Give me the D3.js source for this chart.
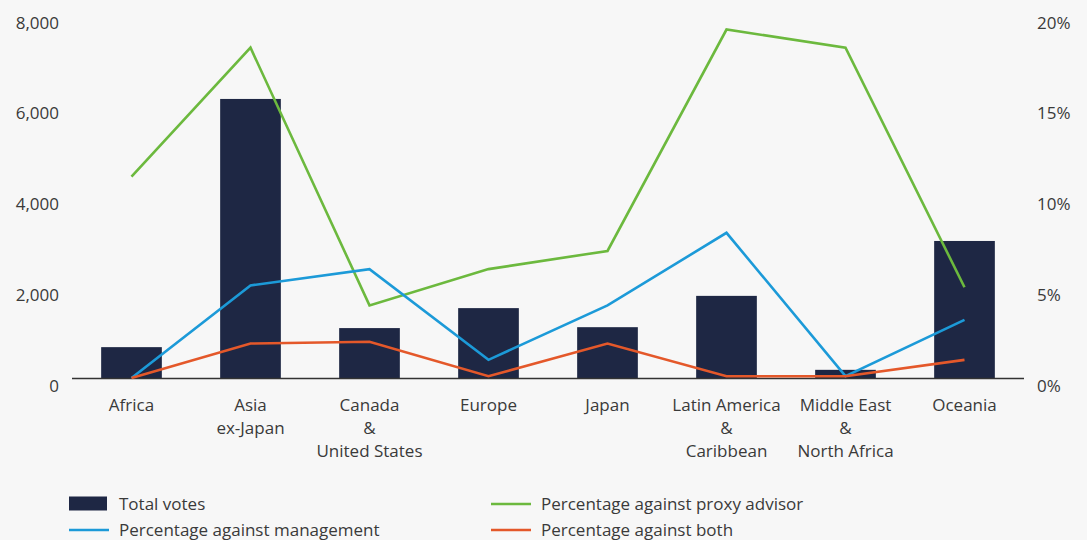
<!DOCTYPE html>
<html>
<head>
<meta charset="utf-8">
<script src="https://cdn.jsdelivr.net/npm/d3@7"></script>
<style>
  html, body { margin: 0; padding: 0; background: #f7f7f7; }
  svg { display: block; }
  text { font-family: "Open Sans", "Noto Sans", sans-serif; fill: #3a3a3a; }
</style>
</head>
<body>
<svg id="chart" width="1087" height="540"></svg>
<script>
// Regions on the x axis (line breaks shown with "\n")
const regions = [
  "Africa", "Asia\nex-Japan", "Canada\n&\nUnited States", "Europe",
  "Japan", "Latin America\n&\nCaribbean", "Middle East\n&\nNorth Africa", "Oceania"
];
// Total votes (left axis)
const totalVotes = [680, 6150, 1100, 1540, 1120, 1810, 180, 3020];
// Percentages (right axis)
const pctAgainstProxy = [11.1, 18.2, 4.0, 6.0, 7.0, 19.2, 18.2, 5.0];
const pctAgainstMgmt  = [0.0, 5.1, 6.0, 1.0, 4.0, 8.0, 0.1, 3.2];
const pctAgainstBoth  = [0.0, 1.9, 2.0, 0.1, 1.9, 0.1, 0.1, 1.0];
// Tick values
const leftTicks = [0, 2000, 4000, 6000, 8000];
const rightTicks = [0, 5, 10, 15, 20];

const colors = {
  bar: "#1e2744",
  proxy: "#6cb93e",
  mgmt: "#1c9ad8",
  both: "#e4582a",
  axis: "#333333"
};

const svg = d3.select("#chart");
const plotLeft = 72, plotRight = 1024, plotTop = 15, plotBottom = 378;

const x = d3.scaleBand().domain(regions).range([plotLeft, plotRight]).paddingInner(0.49).paddingOuter(0.245);
const xc = d => x(d) + x.bandwidth() / 2;
const yL = d3.scaleLinear().domain([0, 8000]).range([plotBottom, plotTop]);
const yR = d3.scaleLinear().domain([0, 20]).range([plotBottom, plotTop]);

// Bars
svg.append("g").selectAll("rect").data(regions).join("rect")
  .attr("x", d => x(d))
  .attr("width", x.bandwidth())
  .attr("y", (d, i) => yL(totalVotes[i]))
  .attr("height", (d, i) => plotBottom - yL(totalVotes[i]))
  .attr("fill", colors.bar);

// Baseline
svg.append("line")
  .attr("x1", plotLeft).attr("x2", plotRight)
  .attr("y1", plotBottom + 0.5).attr("y2", plotBottom + 0.5)
  .attr("stroke", colors.axis).attr("stroke-width", 1.5);

// Lines
const series = [
  { values: pctAgainstProxy, color: colors.proxy },
  { values: pctAgainstMgmt, color: colors.mgmt },
  { values: pctAgainstBoth, color: colors.both }
];
const line = d3.line().x(d => xc(d.r)).y(d => yR(d.v));
series.forEach(s => {
  svg.append("path")
    .datum(regions.map((r, i) => ({ r, v: s.values[i] })))
    .attr("d", line)
    .attr("fill", "none")
    .attr("stroke", s.color)
    .attr("stroke-width", 2.6)
    .attr("stroke-linejoin", "miter");
});

// Left axis labels
const fmt = d3.format(",");
svg.append("g").selectAll("text").data(leftTicks).join("text")
  .attr("x", 59).attr("y", d => yL(d) + 7)
  .attr("text-anchor", "end").attr("dominant-baseline", "central")
  .attr("font-size", 17)
  .text(d => fmt(d));

// Right axis labels
svg.append("g").selectAll("text").data(rightTicks).join("text")
  .attr("x", 1037).attr("y", d => yR(d) + 7)
  .attr("text-anchor", "start").attr("dominant-baseline", "central")
  .attr("font-size", 17)
  .text(d => d + "%");

// Category labels
const cat = svg.append("g").selectAll("text").data(regions).join("text")
  .attr("x", d => xc(d)).attr("y", 404)
  .attr("text-anchor", "middle").attr("font-size", 17);
cat.each(function(d) {
  const t = d3.select(this);
  d.split("\n").forEach((ln, i) => {
    t.append("tspan").attr("x", xc(d)).attr("y", 404 + i * 23)
      .attr("dominant-baseline", "central").text(ln);
  });
});

// Legend
const legend = [
  { label: "Total votes", type: "rect", color: colors.bar, x: 69, y: 503 },
  { label: "Percentage against management", type: "line", color: colors.mgmt, x: 69, y: 529 },
  { label: "Percentage against proxy advisor", type: "line", color: colors.proxy, x: 491, y: 503 },
  { label: "Percentage against both", type: "line", color: colors.both, x: 491, y: 529 }
];
const lg = svg.append("g").selectAll("g").data(legend).join("g");
lg.filter(d => d.type === "rect").append("rect")
  .attr("x", d => d.x).attr("y", d => d.y - 6.5)
  .attr("width", 38).attr("height", 14).attr("fill", d => d.color);
lg.filter(d => d.type === "line").append("line")
  .attr("x1", d => d.x).attr("x2", d => d.x + 40)
  .attr("y1", d => d.y + 1).attr("y2", d => d.y + 1)
  .attr("stroke", d => d.color).attr("stroke-width", 2.6);
lg.append("text")
  .attr("x", d => d.x + 50).attr("y", d => d.y)
  .attr("dominant-baseline", "central").attr("font-size", 17)
  .text(d => d.label);
</script>
</body>
</html>
